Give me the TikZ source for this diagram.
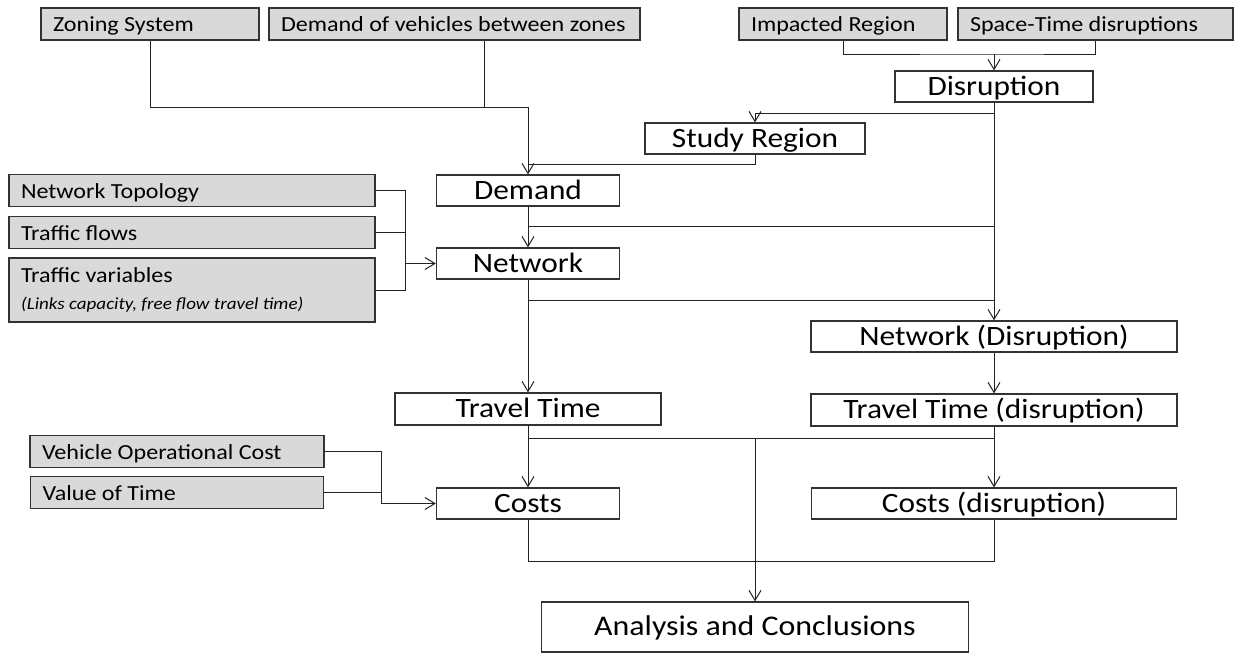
\documentclass[tikz,border=0pt]{standalone}
\usepackage{fontspec}
\setmainfont{Carlito}[FakeStretch=1.12]
\usetikzlibrary{arrows.meta}
\definecolor{gfill}{HTML}{D9D9D9}
\definecolor{edge}{HTML}{333333}
\definecolor{lin}{HTML}{222222}
\begin{document}
\begin{tikzpicture}[x=1pt,y=-1pt,
  gbox/.style={draw=edge, line width=1.3pt, fill=gfill, text width=#1, align=flush left,
    inner xsep=12pt, inner ysep=0pt, minimum height=32pt, text height=17pt, text depth=2pt,
    font=\fontsize{21.5}{24}\selectfont},
  mbox/.style={draw=edge, line width=1.3pt, fill=white, inner sep=0pt, minimum height=31pt,
    text height=19pt, text depth=2pt, font=\fontsize{28}{30}\selectfont},
  conn/.style={draw=lin, line width=1pt},
  arr/.style={conn, -{Straight Barb[length=10pt,width=12pt]}},
]
\useasboundingbox (0,0) rectangle (1244,654);
% input boxes
\node[gbox=194pt] (zon) at (150,24) {Zoning System};
\node[gbox=347pt] (dov) at (454.5,24) {Demand of vehicles between zones};
\node[gbox=184pt] (imp) at (843,24) {Impacted Region};
\node[gbox=251pt] (stp) at (1095.5,24) {Space-Time disruptions};
\node[gbox=342pt] (ntop) at (192,190.5) {Network Topology};
\node[gbox=342pt] (tflow) at (192,232.5) {Traffic flows};
\node[gbox=342pt, minimum height=64pt, text height={}, text depth={}] (tvar) at (192,290) {Traffic variables\\[3pt]{\fontsize{17}{20}\selectfont\itshape (Links capacity, free flow travel time)}};
\node[gbox=270pt] (voc) at (177,451.5) {Vehicle Operational Cost};
\node[gbox=269pt] (vot) at (177,492.5) {Value of Time};
% main boxes
\node[mbox, minimum width=198pt] (dis) at (994,86.5) {Disruption};
\node[mbox, minimum width=220pt] (stu) at (755,138.5) {Study Region};
\node[mbox, minimum width=183pt] (dem) at (528,190.5) {Demand};
\node[mbox, minimum width=183pt] (net) at (528,263.5) {Network};
\node[mbox, minimum width=366pt] (netd) at (994,336.5) {Network (Disruption)};
\node[mbox, minimum width=266pt, minimum height=32pt] (tt) at (528,409) {Travel Time};
\node[mbox, minimum width=366pt, minimum height=32pt] (ttd) at (994,410) {Travel Time (disruption)};
\node[mbox, minimum width=183pt] (cost) at (528,503.5) {Costs};
\node[mbox, minimum width=365pt] (costd) at (994,503.5) {Costs (disruption)};
\node[mbox, minimum width=427pt, minimum height=50pt, font=\fontsize{28.5}{32}\selectfont] (ana) at (755,627) {Analysis and Conclusions};
% junction coordinates
\coordinate (zj) at (528,107);
\coordinate (dj) at (484,107);
\coordinate (sj) at (528,164);
\coordinate (ij) at (994,54);
\coordinate (sr) at (994,113);
\coordinate (dr) at (994,226);
\coordinate (nr) at (994,300);
\coordinate (tj) at (994,438);
\coordinate (tm) at (755,438);
\coordinate (cb) at (994,561);
\coordinate (nb) at (405,263.5);
\coordinate (cbx) at (381,503.5);
% connectors
\draw[conn] (zon.south) |- (zj);
\draw[conn] (dj |- dov.south) -- (dj);
\draw[arr] (zj) -- (dem.north);
\draw[conn] (stu.south) |- (sj);
\draw[conn] (imp.south) |- (ij) -| (stp.south);
\draw[arr] (ij) -- (dis.north);
\draw[arr] (dis.south) -- (netd.north);
\draw[arr] (sr) -| (stu.north);
\draw[conn] (dem.south |- dr) -- (dr);
\draw[conn] (net.south |- nr) -- (nr);
\draw[arr] (dem.south) -- (net.north);
\draw[arr] (net.south) -- (tt.north);
\draw[arr] (netd.south) -- (ttd.north);
\draw[conn] (tt.south) |- (tj);
\draw[conn] (ttd.south) -- (tj);
\draw[arr] (tt.south |- tj) -- (cost.north);
\draw[arr] (tj) -- (costd.north);
\draw[arr] (tm) -- (ana.north);
\draw[conn] (cost.south) |- (cb) -- (costd.south);
\draw[conn] (ntop.east) -- (ntop.east -| nb) -- (tvar.east -| nb) -- (tvar.east);
\draw[conn] (tflow.east) -- (tflow.east -| nb);
\draw[arr] (nb) -- (net.west);
\draw[conn] (voc.east) -- (voc.east -| cbx) -- (cbx);
\draw[conn] (vot.east) -- (vot.east -| cbx);
\draw[arr] (cbx) -- (cost.west);
\end{tikzpicture}
\end{document}
